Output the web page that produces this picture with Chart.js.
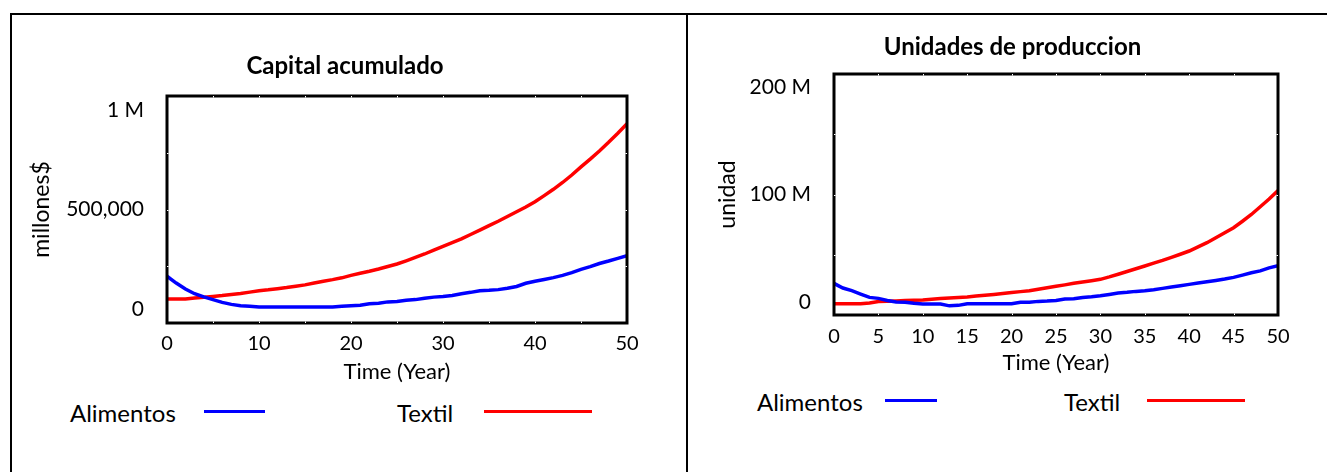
<!DOCTYPE html>
<html>
<head>
<meta charset="utf-8">
<script src="https://cdn.jsdelivr.net/npm/chart.js@4"></script>
<style>
  body { margin: 0; background: #fff; width: 1327px; height: 472px; overflow: hidden; position: relative; font-family: Lato, sans-serif; }
  .rule { position: absolute; background: #000; }
  canvas { position: absolute; }
  .legend-text { position: absolute; font-size: 24px; line-height: 28px; color: #000; white-space: nowrap; }
  .legend-line { position: absolute; height: 3px; }
</style>
</head>
<body>
<div class="rule" style="left:10px; top:13px; width:1317px; height:2px;"></div>
<div class="rule" style="left:10px; top:13px; width:2px; height:459px;"></div>
<div class="rule" style="left:686px; top:13px; width:2px; height:459px;"></div>

<canvas id="capitalChart" width="674" height="370" style="left:12px; top:16px;"></canvas>
<canvas id="unidadesChart" width="637" height="370" style="left:690px; top:16px;"></canvas>

<div class="legend-text" style="left:70px; top:399px;">Alimentos</div>
<div class="legend-line" style="left:204px; top:410px; width:61px; background:#0000ff;"></div>
<div class="legend-text" style="left:397px; top:399px;">Textil</div>
<div class="legend-line" style="left:484px; top:410px; width:108px; background:#ff0000;"></div>

<div class="legend-text" style="left:757px; top:388px;">Alimentos</div>
<div class="legend-line" style="left:885px; top:399px; width:52px; background:#0000ff;"></div>
<div class="legend-text" style="left:1064px; top:388px;">Textil</div>
<div class="legend-line" style="left:1147px; top:399px; width:98px; background:#ff0000;"></div>

<script>
const years = [0, 1, 2, 3, 4, 5, 6, 7, 8, 9, 10, 11, 12, 13, 14, 15, 16, 17, 18, 19, 20,
  21, 22, 23, 24, 25, 26, 27, 28, 29, 30, 31, 32, 33, 34, 35, 36, 37, 38, 39, 40,
  41, 42, 43, 44, 45, 46, 47, 48, 49, 50];

// Capital acumulado (millones$)
const capitalAlimentos = [206000, 176000, 150000, 129000, 115000, 103000, 91000, 82000, 76000, 74000,
  70000, 70000, 70000, 70000, 70000, 70000, 70000, 70000, 70000, 74000,
  76000, 78000, 85000, 87000, 93000, 95000, 100000, 103000, 109000, 114000,
  117000, 121000, 129000, 135000, 142000, 144000, 147000, 153000, 161000, 175000,
  184000, 192000, 200000, 210000, 222000, 236000, 248000, 262000, 273000, 285000, 297000];
const capitalTextil = [106000, 106000, 106000, 110000, 113000, 117000, 121000, 126000, 130000, 136000,
  142000, 146000, 151000, 156000, 162000, 168000, 176000, 184000, 191000, 199000,
  210000, 219000, 228000, 238000, 249000, 260000, 274000, 289000, 304000, 321000,
  338000, 354000, 371000, 390000, 409000, 429000, 448000, 469000, 490000, 511000,
  534000, 561000, 589000, 619000, 652000, 688000, 722000, 758000, 796000, 836000, 878000];

// Unidades de produccion (millions of unidad)
const unidadesAlimentos = [26.2, 22.4, 20.2, 17.4, 14.6, 13.8, 12.1, 10.8, 10.5, 9.7,
  9.1, 9.1, 9.1, 7.6, 8.0, 9.4, 9.4, 9.4, 9.4, 9.4,
  9.4, 10.5, 10.5, 11.3, 11.6, 12.1, 13.2, 13.5, 14.6, 15.2,
  16.0, 17.1, 18.2, 18.8, 19.6, 20.2, 21.0, 22.1, 23.2, 24.3,
  25.4, 26.5, 27.6, 28.7, 29.8, 31.2, 33.1, 35.0, 36.6, 39.1, 41.0];
const unidadesTextil = [9.3, 9.3, 9.3, 9.3, 10.0, 11.2, 11.5, 11.7, 12.0, 12.3,
  12.5, 13.0, 13.6, 14.1, 14.5, 15.0, 15.7, 16.4, 17.1, 17.8,
  18.6, 19.4, 20.2, 21.4, 22.6, 23.8, 25.0, 26.3, 27.4, 28.5,
  29.6, 31.6, 33.8, 36.1, 38.4, 40.7, 43.0, 45.3, 47.8, 50.4,
  53.1, 56.5, 60.0, 64.1, 68.2, 72.4, 77.8, 83.4, 89.8, 96.3, 103.2];

const capitalTicks = [0, 500000, 1000000];
const capitalTickLabels = ["0", "500,000", "1 M"];
const unidadesTicks = [0, 100, 200];
const unidadesTickLabels = ["0", "100 M", "200 M"];

const FONT = "Lato, sans-serif";

// thick black box round the plot, with the small tick notches on it
const framePlugin = {
  id: "frame",
  afterDatasetsDraw(chart) {
    const { ctx, chartArea: a, scales } = chart;
    ctx.save();
    ctx.strokeStyle = "#000";
    ctx.lineWidth = 3;
    ctx.strokeRect(a.left, a.top, a.right - a.left, a.bottom - a.top);
    ctx.strokeStyle = "#fff";
    ctx.lineWidth = 1;
    for (let t = 5; t < 50; t += 5) {
      const x = Math.round(scales.x.getPixelForValue(t)) + 0.5;
      ctx.beginPath();
      ctx.moveTo(x, a.top); ctx.lineTo(x, a.top + 1.5);
      ctx.moveTo(x, a.bottom); ctx.lineTo(x, a.bottom - 1.5);
      ctx.stroke();
    }
    const yMin = scales.y.min, yMax = scales.y.max;
    for (let q = 1; q < 4; q++) {
      const y = Math.round(scales.y.getPixelForValue(yMin + (yMax - yMin) * q / 4)) + 0.5;
      ctx.beginPath();
      ctx.moveTo(a.left, y); ctx.lineTo(a.left + 1.5, y);
      ctx.moveTo(a.right, y); ctx.lineTo(a.right - 1.5, y);
      ctx.stroke();
    }
    ctx.restore();
  },
};

function makeChart(id, cfg) {
  const range = cfg.max - cfg.min;
  // Vensim pulls the end labels inside the box
  const inset = range * cfg.labelInsetPx / cfg.plotHeight;
  return new Chart(document.getElementById(id), {
    type: "line",
    data: {
      labels: years,
      datasets: [
        { label: "Alimentos", data: cfg.blue, borderColor: "#0000ff", borderWidth: 3.5, pointRadius: 0, tension: 0 },
        { label: "Textil", data: cfg.red, borderColor: "#ff0000", borderWidth: 3.5, pointRadius: 0, tension: 0 },
      ],
    },
    options: {
      responsive: false,
      animation: false,
      layout: { padding: { left: cfg.padLeft, right: cfg.padRight, top: 0, bottom: 0 } },
      plugins: {
        legend: { display: false },
        tooltip: { enabled: false },
        title: {
          display: true,
          text: cfg.title,
          color: "#000",
          font: { family: FONT, size: 24, weight: "bold" },
          padding: cfg.titlePad,
        },
      },
      scales: {
        x: {
          type: "linear",
          min: 0,
          max: 50,
          grid: { display: false, drawTicks: false },
          border: { display: false },
          ticks: { stepSize: cfg.xStep, color: "#000", padding: cfg.xTickPad, maxRotation: 0, autoSkip: false, font: { family: FONT, size: 20 } },
          title: { display: true, text: "Time (Year)", color: "#000", font: { family: FONT, size: 22 }, padding: { top: 0, bottom: cfg.xTitlePad } },
          afterFit(scale) {
            scale.height = cfg.xHeight;
            scale.paddingLeft = 0;
            scale.paddingRight = 0;
          },
        },
        y: {
          min: cfg.min,
          max: cfg.max,
          grid: { display: false, drawTicks: false },
          border: { display: false },
          afterBuildTicks(scale) {
            scale.ticks = cfg.ticks.map((v, i) => ({
              value: i === 0 ? v + inset : i === cfg.ticks.length - 1 ? v - inset : v,
            }));
          },
          ticks: {
            color: "#000",
            padding: 23,
            font: { family: FONT, size: 21 },
            callback: (value, index) => cfg.tickLabels[index],
          },
          title: { display: true, text: cfg.yTitle, color: "#000", font: { family: FONT, size: 23 }, padding: { top: cfg.yTitlePad, bottom: 0 } },
          afterFit(scale) {
            scale.width = cfg.yWidth;
            scale.paddingTop = 0;
            scale.paddingBottom = 0;
          },
        },
      },
    },
    plugins: [framePlugin],
  });
}

makeChart("capitalChart", {
  title: "Capital acumulado",
  yTitle: "millones$",
  blue: capitalAlimentos,
  red: capitalTextil,
  min: 0,
  max: 1000000,
  ticks: capitalTicks,
  tickLabels: capitalTickLabels,
  labelInsetPx: 14,
  plotHeight: 227,
  xStep: 10,
  padLeft: 51,
  padRight: 59,
  yWidth: 104,
  xHeight: 63,
  titlePad: { top: 35.6, bottom: 15.6 },
  xTickPad: 9,
  xTitlePad: 0.8,
  yTitlePad: -34.8,
});

makeChart("unidadesChart", {
  title: "Unidades de produccion",
  yTitle: "unidad",
  blue: unidadesAlimentos,
  red: unidadesTextil,
  min: 0,
  max: 200,
  ticks: unidadesTicks,
  tickLabels: unidadesTickLabels,
  labelInsetPx: 13,
  plotHeight: 241,
  xStep: 5,
  padLeft: 57,
  padRight: 49,
  yWidth: 87,
  xHeight: 71,
  titlePad: { top: 16.6, bottom: 12.6 },
  xTickPad: 10,
  xTitlePad: 9.8,
  yTitlePad: -33.3,
});
</script>
</body>
</html>
